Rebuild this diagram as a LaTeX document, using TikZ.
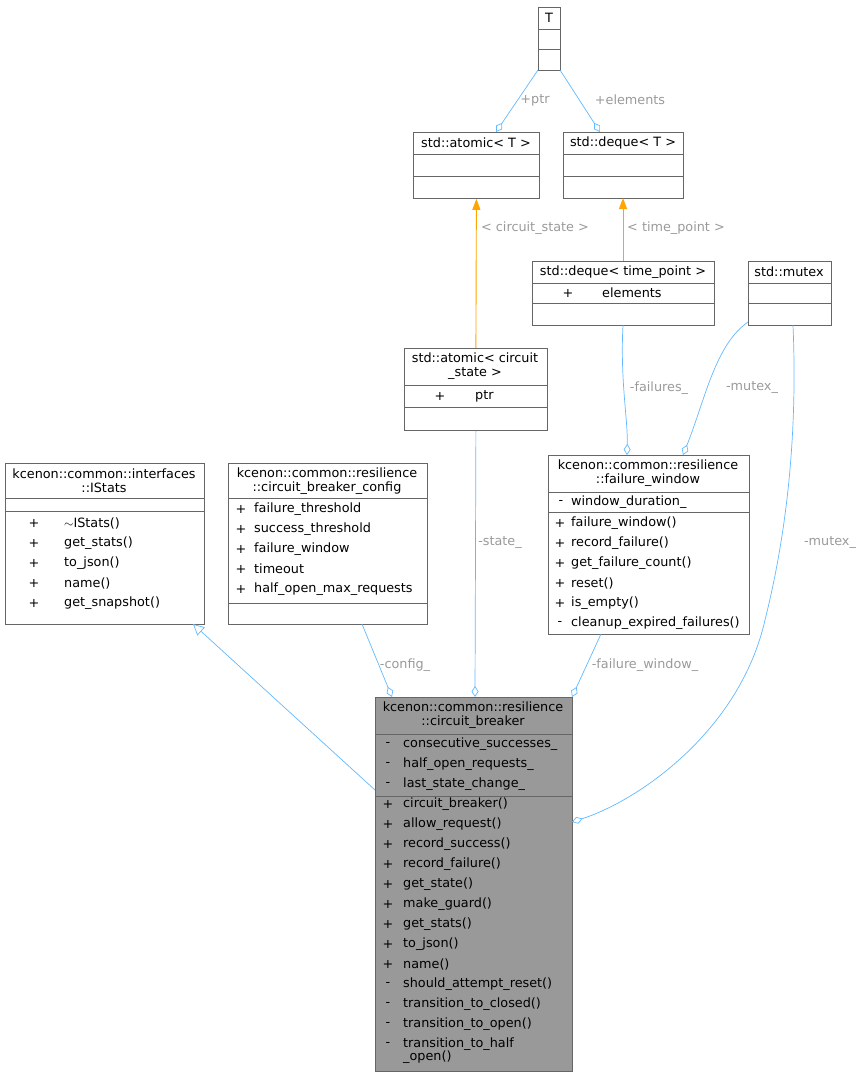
\documentclass[tikz,border=0pt]{standalone}
\usepackage{fontspec}
\setmainfont{DejaVu Sans}
\usetikzlibrary{arrows.meta}
\definecolor{edge}{HTML}{63B8FF}
\definecolor{lbl}{HTML}{9A9A9A}
\definecolor{bd}{HTML}{666666}
\definecolor{org}{HTML}{FFA500}
\begin{document}
\begin{tikzpicture}[x=1pt,y=-1pt,
  box/.style={draw=bd,inner sep=0,anchor=north west,line width=0.8pt},
  txt/.style={inner sep=0,font=\fontsize{12.8}{14}\selectfont},
  tl/.style={txt,anchor=west},
  el/.style={txt,text=lbl},
  agg/.style={draw=edge,line width=0.7pt,{Diamond[open,length=11pt,width=7pt]}-},
  inh/.style={draw=edge,line width=0.7pt,{Triangle[open,length=11pt,width=11pt]}-},
  spec/.style={draw=org,line width=0.9pt,-{Triangle[length=11pt,width=8pt]}},
  dv/.style={draw=bd,line width=0.8pt}]
\useasboundingbox (0,0) rectangle (865,1077);
% T
\node[box,minimum width=22pt,minimum height=63pt] (T) at (538,7) {};
\node[txt] (Tt) at (549,18) {T};
\draw[dv] (538,29)--(560,29) (538,49)--(560,49);
% atomic<T>
\node[box,minimum width=126pt,minimum height=66pt] (AT) at (413,132) {};
\node[txt] (ATt) at (476,143) {std::atomic< T >};
\draw[dv] (413,154)--(539,154) (413,176)--(539,176);
% deque<T>
\node[box,minimum width=120pt,minimum height=66pt] (DT) at (563,132) {};
\node[txt] (DTt) at (623,143) {std::deque< T >};
\draw[dv] (563,154)--(683,154) (563,176)--(683,176);
% atomic<circuit_state>
\node[box,minimum width=143pt,minimum height=82pt] (AC) at (404,348) {};
\node[txt,align=center] (ACt) at (475,366) {std::atomic< circuit\\\_state >};
\draw[dv] (404,385)--(547,385) (404,407)--(547,407);
\node[txt] (ACs) at (440,396) {+};
\node[tl] (ACn) at (475,396) {ptr};
% deque<time_point>
\node[box,minimum width=182pt,minimum height=64pt] (DP) at (532,261) {};
\node[txt] (DPt) at (623,272) {std::deque< time\_point >};
\draw[dv] (532,283)--(714,283) (532,303)--(714,303);
\node[txt] (DPs) at (568,293) {+};
\node[tl] (DPn) at (602,293) {elements};
% mutex
\node[box,minimum width=83pt,minimum height=64pt] (MX) at (748,261) {};
\node[txt] (MXt) at (789,272) {std::mutex};
\draw[dv] (748,283)--(831,283) (748,303)--(831,303);
% IStats
\node[box,minimum width=199pt,minimum height=161pt] (IS) at (5,463) {};
\node[txt,align=center] (ISt) at (104,481) {kcenon::common::interfaces\\::IStats};
\draw[dv] (5,498)--(204,498) (5,511)--(204,511);
\foreach \t [count=\i] in {$\sim$IStats(),get\_stats(),to\_json(),name(),get\_snapshot()}{
  \node[txt] (ISs\i) at (34,{511+\i*20-8}) {+};
  \node[tl] (ISn\i) at (64,{511+\i*20-8}) {\t};}
% config
\node[box,minimum width=199pt,minimum height=161pt] (CF) at (228,463) {};
\node[txt,align=center] (CFt) at (327,481) {kcenon::common::resilience\\::circuit\_breaker\_config};
\draw[dv] (228,498)--(427,498) (228,603)--(427,603);
\foreach \t [count=\i] in {failure\_threshold,success\_threshold,failure\_window,timeout,half\_open\_max\_requests}{
  \node[txt] (CFs\i) at (241,{498+\i*20-9}) {+};
  \node[tl] (CFn\i) at (254,{498+\i*20-9}) {\t};}
% failure_window
\node[box,minimum width=201pt,minimum height=179pt] (FW) at (548,455) {};
\node[txt,align=center] (FWt) at (648,473) {kcenon::common::resilience\\::failure\_window};
\draw[dv] (548,492)--(749,492) (548,512)--(749,512);
\node[txt] (FWa) at (561,502) {-};
\node[tl] (FWan) at (571,502) {window\_duration\_};
\foreach \s/\t [count=\i] in {+/failure\_window(),+/record\_failure(),+/get\_failure\_count(),+/reset(),+/is\_empty(),-/cleanup\_expired\_failures()}{
  \node[txt] (FWs\i) at (560,{512+\i*20-9}) {\s};
  \node[tl] (FWn\i) at (571,{512+\i*20-9}) {\t};}
% circuit_breaker
\node[box,fill=black!40,minimum width=197pt,minimum height=374pt] (CB) at (375,697) {};
\node[txt,align=center] (CBt) at (473,715) {kcenon::common::resilience\\::circuit\_breaker};
\draw[dv] (375,734)--(572,734) (375,796)--(572,796);
\foreach \t [count=\i] in {consecutive\_successes\_,half\_open\_requests\_,last\_state\_change\_}{
  \node[txt] (CBas\i) at (388,{724+\i*20}) {-};
  \node[tl] (CBan\i) at (403,{724+\i*20}) {\t};}
\foreach \s/\t [count=\i] in {+/circuit\_breaker(),+/allow\_request(),+/record\_success(),+/record\_failure(),+/get\_state(),+/make\_guard(),+/get\_stats(),+/to\_json(),+/name(),-/should\_attempt\_reset(),-/transition\_to\_closed(),-/transition\_to\_open(),-/transition\_to\_half}{
  \node[txt] (CBs\i) at (388,{784+\i*20}) {\s};
  \node[tl] (CBn\i) at (403,{784+\i*20}) {\t};}
\node[tl] (CBn14) at (403,1057) {\_open()};
% connectors
\coordinate (Tl) at (538,70); \coordinate (Tr) at (560,70);
\coordinate (ATb) at (496,132); \coordinate (DTb) at (600,132);
\draw[agg] (ATb) -- (Tl);
\draw[agg] (DTb) -- (Tr);
\node[el] (l1) at (535,100) {+ptr};
\node[el] (l2) at (630,100) {+elements};
\draw[spec] (AC.north) -- (AT.south);
\node[el] (l3) at (535,228) {< circuit\_state >};
\coordinate (dpn) at (623,261); \coordinate (dts) at (623,198);
\draw[spec] (dpn) -- (dts);
\node[el] (l4) at (676,228) {< time\_point >};
\coordinate (fwa) at (627,455); \coordinate (fwb) at (683,455);
\coordinate (dps) at (623,325); \coordinate (mxa) at (748,322); \coordinate (mxb) at (793,325);
\draw[agg] (fwa) .. controls (628,420) and (620,380) .. (dps);
\node[el] (l5) at (659,388) {-failures\_};
\draw[agg] (fwb) .. controls (705,400) and (715,345) .. (mxa);
\node[el] (l6) at (752,388) {-mutex\_};
\coordinate (cbm) at (572,822);
\draw[agg] (cbm) .. controls (640,800) and (740,730) .. (765,620) .. controls (790,520) and (797,420) .. (mxb);
\node[el] (l7) at (830,543) {-mutex\_};
\coordinate (isb) at (193,624); \coordinate (cbl) at (375,790);
\draw[inh] (isb) -- (cbl);
\coordinate (cba) at (392,697); \coordinate (cfb) at (362,624);
\draw[agg] (cba) -- (cfb);
\node[el] (l8) at (405,665) {-config\_};
\coordinate (cbc) at (475,697);
\draw[agg] (cbc) -- (AC.south);
\node[el] (l9) at (500,543) {-state\_};
\coordinate (cbd) at (572,697); \coordinate (fwc) at (601,634);
\draw[agg] (cbd) -- (fwc);
\node[el] (l10) at (645,665) {-failure\_window\_};
\end{tikzpicture}
\end{document}
